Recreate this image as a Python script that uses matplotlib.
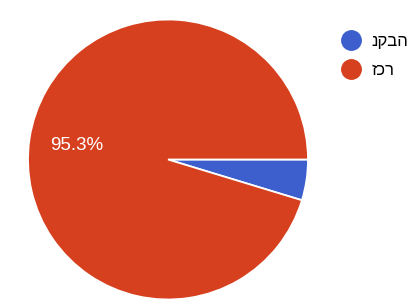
import matplotlib
matplotlib.use("Agg")
import matplotlib.pyplot as plt
from matplotlib.lines import Line2D

# data (the reference shows the hebrew letters in left-to-right order)
labels = ["נקבה", "זכר"]
values = [4.7, 95.3]
colors = ["#3c5fcd", "#d6401f"]


def show_pct(p):
    # only the big slice gets a label
    return f"{p:.1f}%" if p > 10 else ""


fig = plt.figure(figsize=(4.16, 3.03), dpi=100)
ax = fig.add_axes([28 / 416, 3 / 303, 280 / 416, 281 / 303])

wedges, texts, autotexts = ax.pie(
    values, colors=colors, startangle=0, counterclock=False,
    autopct=show_pct, pctdistance=0.66,
    wedgeprops=dict(edgecolor="white", linewidth=1.3),
    textprops=dict(color="white", fontsize=13.5, family="Liberation Sans"),
)
ax.set_xlim(-1.0, 1.0)
ax.set_ylim(-1.0, 1.0)
ax.set_aspect("equal")

# legend
handles = [Line2D([], [], marker="o", linestyle="", markersize=14,
                  markerfacecolor=c, markeredgecolor=c) for c in colors]
fig.legend(handles, labels, loc="upper left",
           bbox_to_anchor=(328 / 416, 1 - 27 / 303), frameon=False,
           handletextpad=0.2, labelspacing=0.85, borderaxespad=0,
           prop=dict(family=["Liberation Sans", "DejaVu Sans"], size=12))

fig.savefig("out.png", dpi=100)
